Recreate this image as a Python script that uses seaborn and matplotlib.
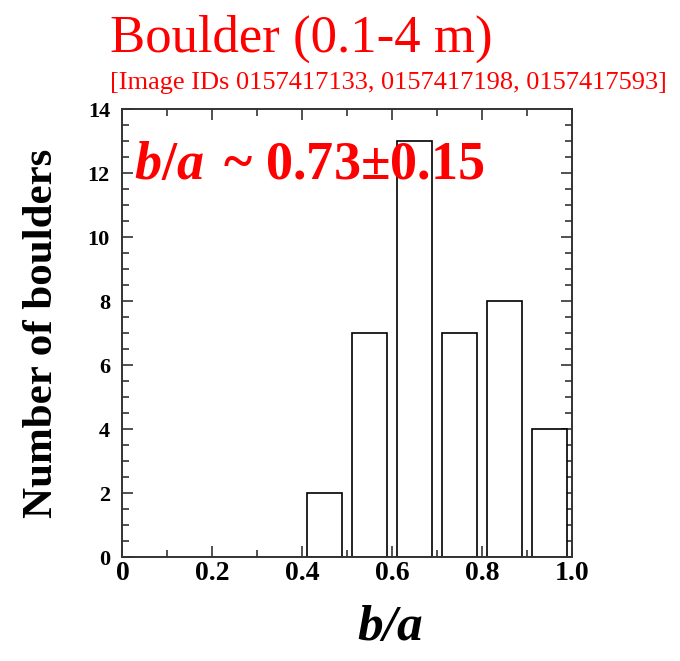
import matplotlib
matplotlib.use("Agg")
import matplotlib.pyplot as plt
import seaborn as sns
import numpy as np
from matplotlib.ticker import MultipleLocator

bin_centers = [0.45, 0.55, 0.65, 0.75, 0.85, 0.95]
counts = [2, 7, 13, 7, 8, 4]
bin_edges = [0.4, 0.5, 0.6, 0.7, 0.8, 0.9, 1.0]
x_ticks = [0, 0.2, 0.4, 0.6, 0.8, 1.0]
x_tick_labels = ["0", "0.2", "0.4", "0.6", "0.8", "1.0"]
y_ticks = [0, 2, 4, 6, 8, 10, 12, 14]

sns.set_theme(style="ticks")
plt.rcParams['font.family'] = ['Liberation Serif', 'DejaVu Serif']
plt.rcParams['mathtext.fontset'] = 'custom'
plt.rcParams['mathtext.it'] = 'Liberation Serif:italic:bold'
plt.rcParams['mathtext.rm'] = 'Liberation Serif:bold'
plt.rcParams['mathtext.bf'] = 'Liberation Serif:bold'
plt.rcParams['text.color'] = 'black'
plt.rcParams['axes.labelcolor'] = 'black'
plt.rcParams['xtick.color'] = 'black'
plt.rcParams['ytick.color'] = 'black'

fig = plt.figure(figsize=(6.8, 6.61), dpi=100)
ax = fig.add_axes([0.180, 0.157, 0.661, 0.678])

sns.histplot(x=bin_centers, weights=counts, bins=bin_edges, shrink=0.78,
             color="white", edgecolor="black", linewidth=1.2, alpha=1, ax=ax)

ax.set_xlim(0, 1.0)
ax.set_ylim(0, 14)
ax.set_xticks(x_ticks)
ax.set_xticklabels(x_tick_labels)
ax.set_yticks(y_ticks)
ax.xaxis.set_minor_locator(MultipleLocator(0.1))
ax.yaxis.set_minor_locator(MultipleLocator(0.5))
ax.tick_params(which="both", direction="in", top=True, right=True, width=1.2, color="#333333")
ax.tick_params(which="major", length=8)
ax.tick_params(which="minor", length=5)
ax.tick_params(axis="x", labelsize=20, pad=3)
ax.tick_params(axis="y", labelsize=16, pad=9)
for lab in ax.get_xticklabels() + ax.get_yticklabels():
    lab.set_fontweight("bold")
for s in ax.spines.values():
    s.set_linewidth(1.4)
    s.set_color("#333333")

ax.set_xlabel("b/a", fontsize=37, fontweight="bold", fontstyle="italic")
ax.xaxis.set_label_coords(0.595, -0.106)
ax.set_ylabel("Number of boulders", fontsize=31, fontweight="bold")
ax.yaxis.set_label_coords(-0.136, 0.5)

ax.text(0.025, 0.845, r"$b/a\,$ ~ 0.73±0.15", transform=ax.transAxes,
        color="red", fontsize=39, fontweight="bold", va="baseline", ha="left")

fig.text(0.162, 1 - 52 / 661, "Boulder (0.1-4 m)", color="red", fontsize=38,
         ha="left", va="baseline")
fig.text(0.162, 1 - 89 / 661, "[Image IDs 0157417133, 0157417198, 0157417593]",
         color="red", fontsize=19, ha="left", va="baseline")

fig.savefig("out.png", dpi=100)
